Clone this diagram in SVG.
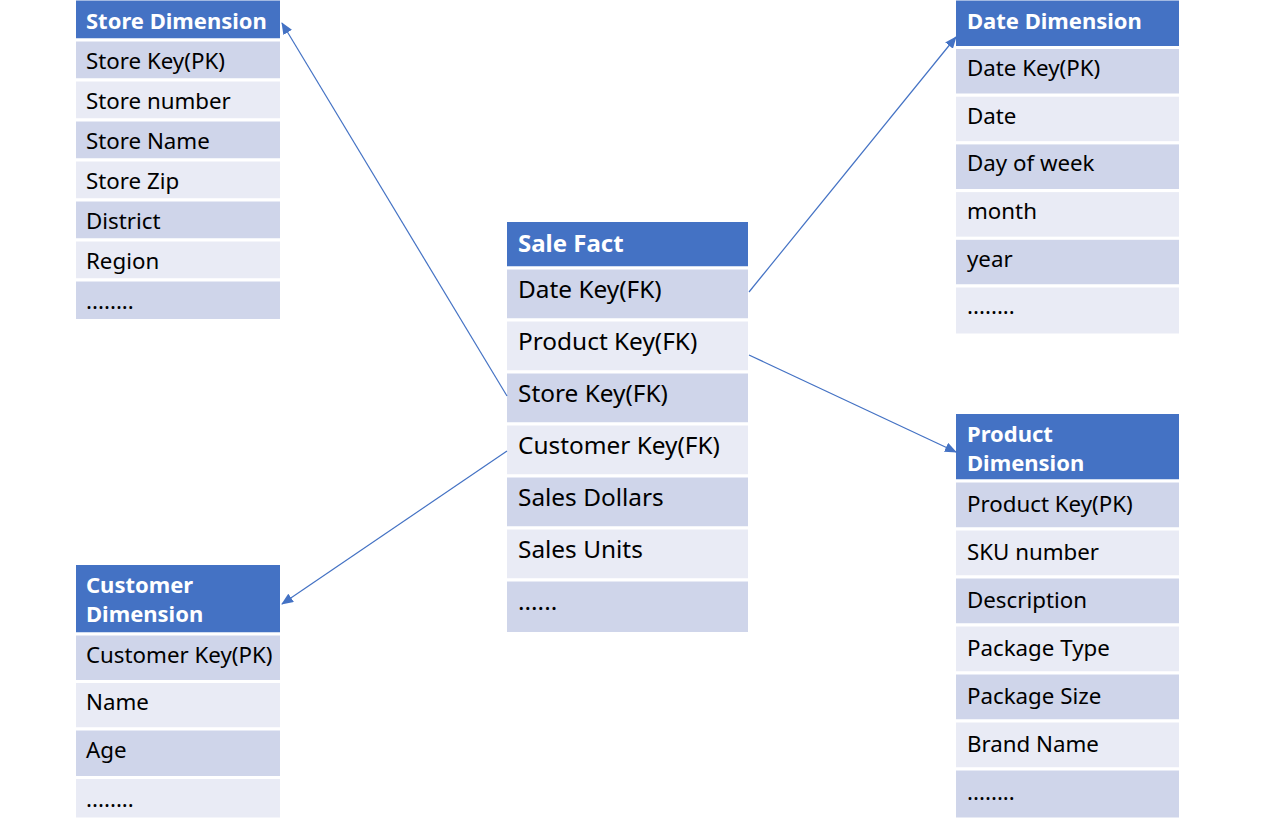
<svg xmlns="http://www.w3.org/2000/svg" width="1274" height="818" viewBox="0 0 1274 818">
<defs>
<style>
.hd{fill:#4472C4;stroke:#fff;stroke-width:3}
.dk{fill:#CFD5EA;stroke:#fff;stroke-width:3}
.lt{fill:#E9EBF5;stroke:#fff;stroke-width:3}
.ht{font-family:"Noto Sans","Liberation Sans",sans-serif;font-weight:bold;font-size:22px;fill:#fff}
.rt{font-family:"Noto Sans","Liberation Sans",sans-serif;font-size:22.3px;fill:#000}
.ft{font-family:"Noto Sans","Liberation Sans",sans-serif;font-size:24.4px;fill:#000}
.fh{font-family:"Noto Sans","Liberation Sans",sans-serif;font-weight:bold;font-size:24px;fill:#fff}
.cn{stroke:#4472C4;stroke-width:1.2;fill:none;marker-end:url(#ar)}
</style>
<marker id="ar" markerUnits="userSpaceOnUse" markerWidth="12" markerHeight="10" refX="11" refY="5" orient="auto">
<path d="M0,0 L12,5 L0,10 Z" fill="#4472C4"/>
</marker>
</defs>
<rect width="1274" height="818" fill="#fff"/>

<g id="store-dimension">
<rect class="hd" x="74.5" y="-1" width="207" height="41"/>
<rect class="dk" x="74.5" y="40" width="207" height="40"/>
<rect class="lt" x="74.5" y="80" width="207" height="40"/>
<rect class="dk" x="74.5" y="120" width="207" height="40"/>
<rect class="lt" x="74.5" y="160" width="207" height="40"/>
<rect class="dk" x="74.5" y="200" width="207" height="40"/>
<rect class="lt" x="74.5" y="240" width="207" height="40"/>
<rect class="dk" x="74.5" y="280" width="207" height="40.5"/>
<text class="ht" x="86" y="29">Store Dimension</text>
<text class="rt" x="86" y="69">Store Key(PK)</text>
<text class="rt" x="86" y="109">Store number</text>
<text class="rt" x="86" y="149">Store Name</text>
<text class="rt" x="86" y="189">Store Zip</text>
<text class="rt" x="86" y="229">District</text>
<text class="rt" x="86" y="269">Region</text>
<text class="rt" x="86" y="309">........</text>
</g>

<g id="sale-fact">
<rect class="hd" x="505.5" y="220.5" width="244" height="47.5"/>
<rect class="dk" x="505.5" y="268" width="244" height="52"/>
<rect class="lt" x="505.5" y="320" width="244" height="52"/>
<rect class="dk" x="505.5" y="372" width="244" height="52"/>
<rect class="lt" x="505.5" y="424" width="244" height="52"/>
<rect class="dk" x="505.5" y="476" width="244" height="52"/>
<rect class="lt" x="505.5" y="528" width="244" height="52"/>
<rect class="dk" x="505.5" y="580" width="244" height="53.5"/>
<text class="fh" x="518" y="252">Sale Fact</text>
<text class="ft" x="518" y="298">Date Key(FK)</text>
<text class="ft" x="518" y="350">Product Key(FK)</text>
<text class="ft" x="518" y="402">Store Key(FK)</text>
<text class="ft" x="518" y="454">Customer Key(FK)</text>
<text class="ft" x="518" y="506">Sales Dollars</text>
<text class="ft" x="518" y="558">Sales Units</text>
<text class="ft" x="518" y="610">......</text>
</g>

<g id="date-dimension">
<rect class="hd" x="954.5" y="-1" width="226" height="48.5"/>
<rect class="dk" x="954.5" y="47.5" width="226" height="47.7"/>
<rect class="lt" x="954.5" y="95.2" width="226" height="47.7"/>
<rect class="dk" x="954.5" y="142.9" width="226" height="47.7"/>
<rect class="lt" x="954.5" y="190.6" width="226" height="47.7"/>
<rect class="dk" x="954.5" y="238.3" width="226" height="47.7"/>
<rect class="lt" x="954.5" y="286" width="226" height="49"/>
<text class="ht" x="967" y="29">Date Dimension</text>
<text class="rt" x="967" y="76">Date Key(PK)</text>
<text class="rt" x="967" y="124">Date</text>
<text class="rt" x="967" y="171">Day of week</text>
<text class="rt" x="967" y="219">month</text>
<text class="rt" x="967" y="267">year</text>
<text class="rt" x="967" y="314">........</text>
</g>

<g id="product-dimension">
<rect class="hd" x="954.5" y="412.5" width="226" height="68.5"/>
<rect class="dk" x="954.5" y="481" width="226" height="48"/>
<rect class="lt" x="954.5" y="529" width="226" height="48"/>
<rect class="dk" x="954.5" y="577" width="226" height="48"/>
<rect class="lt" x="954.5" y="625" width="226" height="48"/>
<rect class="dk" x="954.5" y="673" width="226" height="48"/>
<rect class="lt" x="954.5" y="721" width="226" height="48"/>
<rect class="dk" x="954.5" y="769" width="226" height="50"/>
<text class="ht" x="967" y="442">Product</text>
<text class="ht" x="967" y="471">Dimension</text>
<text class="rt" x="967" y="512">Product Key(PK)</text>
<text class="rt" x="967" y="560">SKU number</text>
<text class="rt" x="967" y="608">Description</text>
<text class="rt" x="967" y="656">Package Type</text>
<text class="rt" x="967" y="704">Package Size</text>
<text class="rt" x="967" y="752">Brand Name</text>
<text class="rt" x="967" y="800">........</text>
</g>

<g id="customer-dimension">
<rect class="hd" x="74.5" y="563.5" width="207" height="70.5"/>
<rect class="dk" x="74.5" y="634" width="207" height="47.5"/>
<rect class="lt" x="74.5" y="681.5" width="207" height="47.5"/>
<rect class="dk" x="74.5" y="729" width="207" height="48.5"/>
<rect class="lt" x="74.5" y="777.5" width="207" height="41.5"/>
<text class="ht" x="86" y="593">Customer</text>
<text class="ht" x="86" y="622">Dimension</text>
<text class="rt" x="86" y="663">Customer Key(PK)</text>
<text class="rt" x="86" y="710">Name</text>
<text class="rt" x="86" y="758">Age</text>
<text class="rt" x="86" y="807">........</text>
</g>

<g id="connectors">
<line class="cn" x1="507" y1="396" x2="282" y2="23"/>
<line class="cn" x1="749" y1="292" x2="956" y2="37"/>
<line class="cn" x1="749" y1="355" x2="956" y2="452"/>
<line class="cn" x1="507" y1="451" x2="282" y2="604"/>
</g>
</svg>
